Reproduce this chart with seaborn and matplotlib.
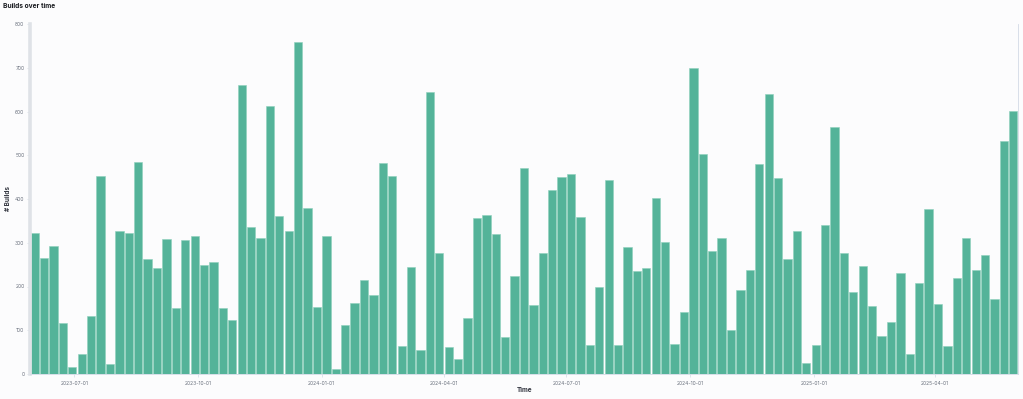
import matplotlib
matplotlib.use("Agg")
import matplotlib.pyplot as plt
import seaborn as sns
import pandas as pd
import numpy as np

# ---- data ----
week_start = "2023-05-29"
builds = [322, 265, 293, 116, 16, 46, 133, 453, 24, 326, 322, 485, 262, 243, 309,
          152, 306, 316, 249, 256, 152, 123, 661, 336, 311, 613, 361, 328, 758, 379,
          154, 316, 12, 113, 162, 216, 181, 482, 452, 65, 245, 55, 645, 277, 61,
          34, 127, 357, 364, 319, 85, 224, 472, 158, 277, 420, 450, 457, 360, 66,
          199, 444, 66, 290, 235, 242, 402, 302, 69, 141, 700, 502, 281, 312, 101,
          192, 238, 479, 639, 447, 262, 328, 26, 66, 341, 564, 277, 187, 248, 155,
          87, 120, 231, 46, 209, 377, 159, 64, 220, 312, 237, 271, 171, 533, 601]
tick_dates = ["2023-07-01", "2023-10-01", "2024-01-01", "2024-04-01",
              "2024-07-01", "2024-10-01", "2025-01-01", "2025-04-01"]
y_ticks = [0, 100, 200, 300, 400, 500, 600, 700, 800]

weeks = pd.date_range(week_start, periods=len(builds), freq="7D")
df = pd.DataFrame({"week": weeks.strftime("%Y-%m-%d"), "builds": builds})

sns.set_style("white")
plt.rcParams["font.family"] = ["Inter", "DejaVu Sans"]

bg = "#fcfcfd"
fig = plt.figure(figsize=(10.23, 3.99), dpi=100, facecolor=bg)
ax = fig.add_axes([30 / 1023, 1 - 374 / 399, 988 / 1023, 350 / 399])
ax.set_facecolor(bg)

sns.barplot(data=df, x="week", y="builds", color="#54b399", saturation=1,
            width=0.88, edgecolor="#8fd0bd", linewidth=0.4, ax=ax, errorbar=None)

ax.set_xlim(-0.5, len(builds) - 0.5)
ax.set_ylim(0, 800)

# x ticks at dates mapped onto the weekly category positions
start = pd.Timestamp(week_start)
pos = [(pd.Timestamp(d) - start).days / 7 - 0.5 for d in tick_dates]
ax.set_xticks(pos)
ax.set_xticklabels(tick_dates)
ax.set_yticks(y_ticks)
ax.set_yticklabels([str(v) for v in y_ticks])

tick_col = "#69707d"
ax.tick_params(axis="x", length=2.5, width=0.5, color="#d3dae6", pad=2.5,
               labelsize=3.6, labelcolor=tick_col, bottom=True)
ax.tick_params(axis="y", length=2.5, width=0.5, color="#d3dae6", pad=1.5,
               labelsize=3.6, labelcolor=tick_col, left=True)

for s in ["top"]:
    ax.spines[s].set_visible(False)
ax.spines["left"].set_color("#dfe2e7")
ax.spines["left"].set_linewidth(2.6)
ax.spines["right"].set_color("#d3dae6")
ax.spines["right"].set_linewidth(0.6)
ax.spines["bottom"].set_color("#d3dae6")
ax.spines["bottom"].set_linewidth(0.6)

ax.set_xlabel("Time", fontsize=4.6, fontweight="bold", color="#343741")
ax.set_ylabel("# Builds", fontsize=4.6, fontweight="bold", color="#343741")
ax.xaxis.set_label_coords(0.5005, -0.037)
ax.yaxis.set_label_coords(-0.0195, 0.5)

fig.text(3 / 1023, 1 - 6.5 / 399, "Builds over time", fontsize=4.8,
         fontweight="bold", color="#1a1c21", ha="left", va="center")

fig.savefig("out.png", dpi=100, facecolor=bg)
